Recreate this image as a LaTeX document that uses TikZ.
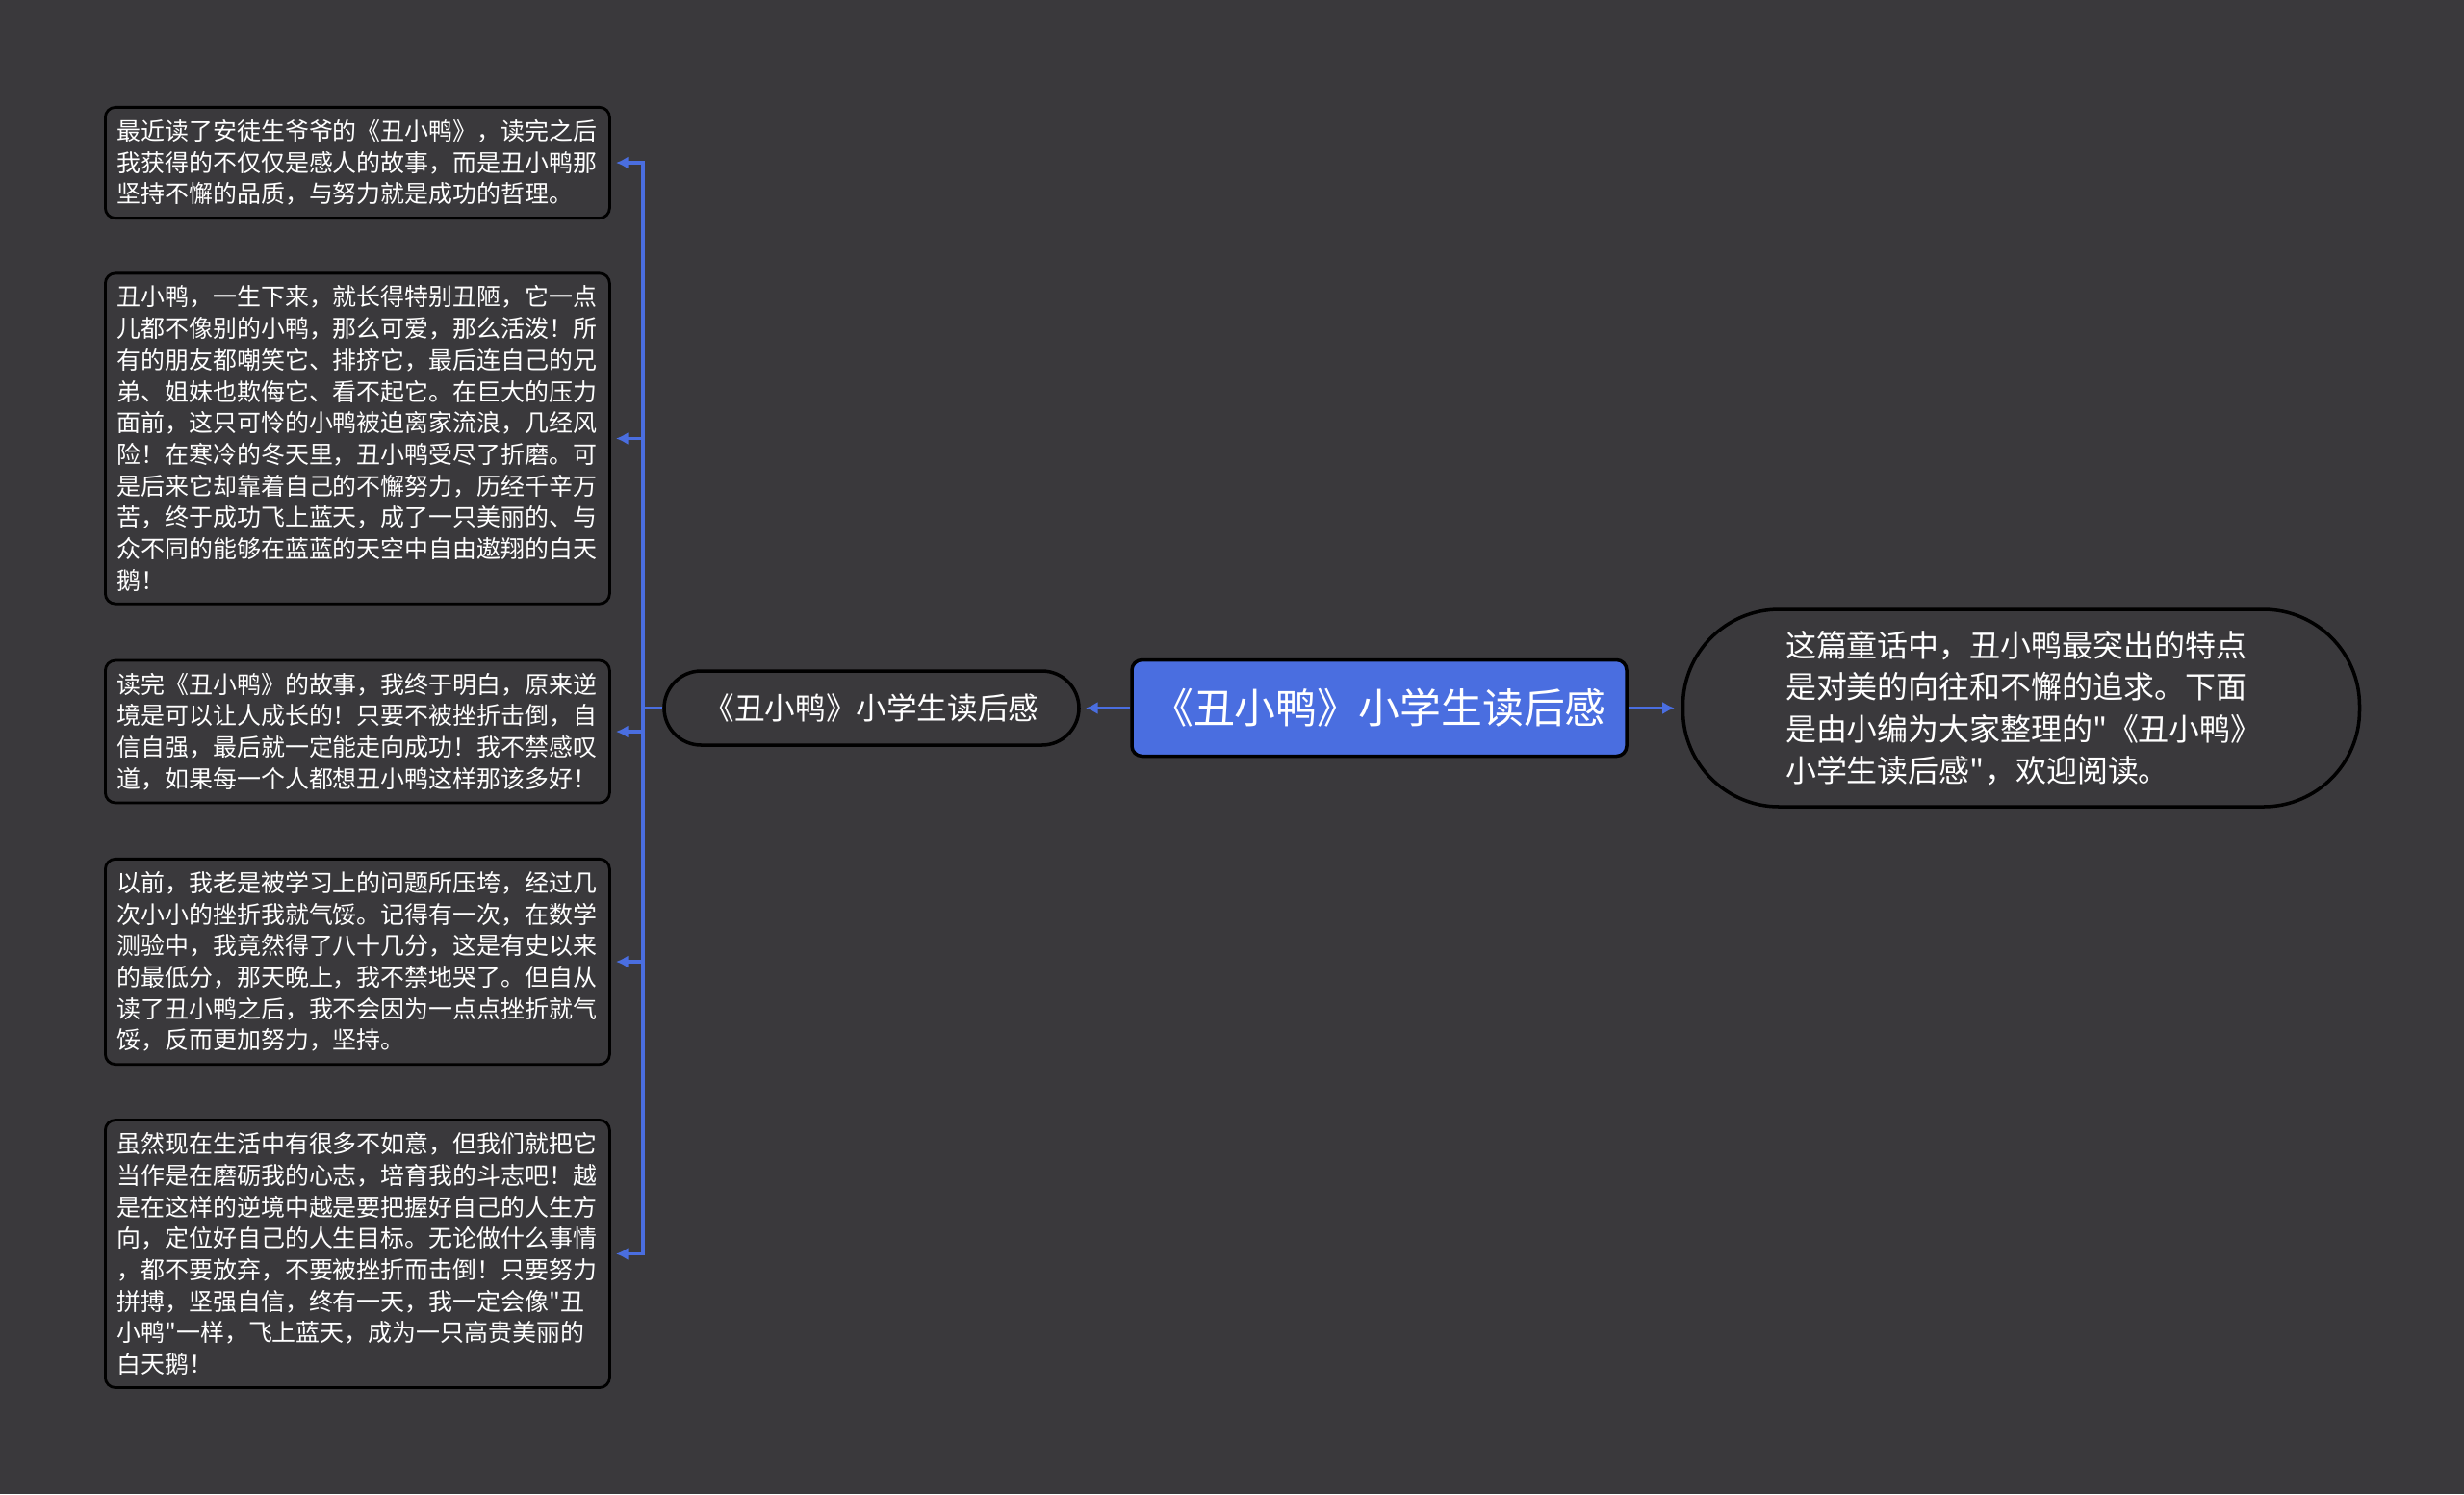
\documentclass[tikz,border=0pt]{standalone}
\usepackage{fontspec}
\setmainfont{Noto Sans CJK SC}[Ligatures=TeXOff]
\usepackage{xcolor}
\usepackage{tikz}
\usetikzlibrary{positioning, arrows.meta}

\definecolor{bgdark}{HTML}{3A393C}
\definecolor{mapblue}{HTML}{4A6EE0}

\begin{document}
\begin{tikzpicture}[
    font=\fontsize{7.1}{9.3}\selectfont,
    leaf/.style={
        rectangle,
        draw=black,
        fill=bgdark,
        line width=0.8pt,
        rounded corners=3pt,
        text=white,
        text width=5.0cm,
        align=left,
        inner xsep=0.12cm,
        inner ysep=0.13cm,
        anchor=west
    },
    topic/.style={
        rectangle,
        draw=black,
        fill=bgdark,
        line width=1pt,
        text=white,
        align=center
    },
    link/.style={mapblue, line width=1pt},
    arrow/.style={-{Latex[length=3.6pt,width=3.8pt]}, mapblue, line width=1pt, shorten >=1.5pt}
]

% Background
\fill[bgdark] (0,0) rectangle (25.6,-15.52);

\def\xl{1.08}

% Root and summary
\node[topic, fill=mapblue, rounded corners=3pt, minimum width=5.14cm, minimum height=1.0cm,
      font=\fontsize{12.2}{14}\selectfont] (root) at (14.33, -7.355) {《丑小鸭》小学生读后感};
\node[topic, rounded corners=0.385cm, minimum width=4.31cm, minimum height=0.77cm,
      font=\fontsize{9}{10}\selectfont] (sub) at (9.055, -7.355) {《丑小鸭》小学生读后感};
\node[topic, rounded corners=1.0cm, minimum width=7.03cm, minimum height=2.05cm,
      font=\fontsize{9.1}{12.4}\selectfont, text width=4.9cm, align=left] (intro) at (21.0, -7.355)
      {这篇童话中，丑小鸭最突出的特点\\是对美的向往和不懈的追求。下面\\是由小编为大家整理的"《丑小鸭》\\小学生读后感"，欢迎阅读。};

% Leaves
\node[leaf] (b1) at (\xl, -1.69) {最近读了安徒生爷爷的《丑小鸭》，读完之后\\我获得的不仅仅是感人的故事，而是丑小鸭那\\坚持不懈的品质，与努力就是成功的哲理。};
\node[leaf] (b2) at (\xl, -4.555) {丑小鸭，一生下来，就长得特别丑陋，它一点\\儿都不像别的小鸭，那么可爱，那么活泼！所\\有的朋友都嘲笑它、排挤它，最后连自己的兄\\弟、姐妹也欺侮它、看不起它。在巨大的压力\\面前，这只可怜的小鸭被迫离家流浪，几经风\\险！在寒冷的冬天里，丑小鸭受尽了折磨。可\\是后来它却靠着自己的不懈努力，历经千辛万\\苦，终于成功飞上蓝天，成了一只美丽的、与\\众不同的能够在蓝蓝的天空中自由遨翔的白天\\鹅！};
\node[leaf] (b3) at (\xl, -7.60) {读完《丑小鸭》的故事，我终于明白，原来逆\\境是可以让人成长的！只要不被挫折击倒，自\\信自强，最后就一定能走向成功！我不禁感叹\\道，如果每一个人都想丑小鸭这样那该多好！};
\node[leaf] (b4) at (\xl, -9.99) {以前，我老是被学习上的问题所压垮，经过几\\次小小的挫折我就气馁。记得有一次，在数学\\测验中，我竟然得了八十几分，这是有史以来\\的最低分，那天晚上，我不禁地哭了。但自从\\读了丑小鸭之后，我不会因为一点点挫折就气\\馁，反而更加努力，坚持。};
\node[leaf] (b5) at (\xl, -13.025) {虽然现在生活中有很多不如意，但我们就把它\\当作是在磨砺我的心志，培育我的斗志吧！越\\是在这样的逆境中越是要把握好自己的人生方\\向，定位好自己的人生目标。无论做什么事情\\，都不要放弃，不要被挫折而击倒！只要努力\\拼搏，坚强自信，终有一天，我一定会像"丑\\小鸭"一样，飞上蓝天，成为一只高贵美丽的\\白天鹅！};

% Connectors
\coordinate (spine) at (6.68, -7.355);
\draw[arrow] (root.west) -- (sub.east);
\draw[arrow, shorten >=2pt] (root.east) -- (intro.west);
\draw[link] (sub.west) -- (spine);
\foreach \b in {b1, b2, b3, b4, b5}
    \draw[arrow] (spine) |- (\b.east);

\end{tikzpicture}
\end{document}
